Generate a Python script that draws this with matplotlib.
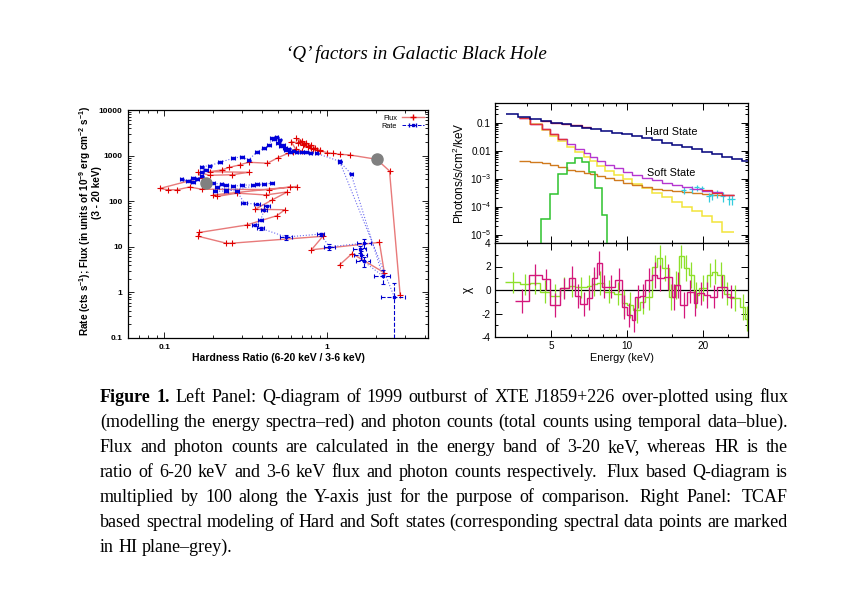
import re
import numpy as np
import matplotlib
matplotlib.use('Agg')
import matplotlib.pyplot as plt
from matplotlib.ticker import FixedLocator, FixedFormatter, NullFormatter
from matplotlib.lines import Line2D

plt.rcParams['font.family'] = ['Liberation Sans', 'DejaVu Sans']
plt.rcParams['mathtext.default'] = 'regular'
plt.rcParams['axes.unicode_minus'] = False

# ---------------- Left panel data: Q-diagram ----------------
red_hr = [2.80, 2.41, 2.01, 1.37, 1.19, 1.08, 1.00, 0.90, 0.86, 0.80,
          0.76, 0.72, 0.68, 0.645, 0.70, 0.74, 0.80, 0.84, 0.90, 0.82,
          0.76, 0.71, 0.66, 0.60, 0.64, 0.70, 0.62, 0.575, 0.50, 0.43,
          0.33, 0.29, 0.25, 0.225, 0.19, 0.33, 0.26, 0.19, 0.162, 0.17,
          0.094, 0.106, 0.12, 0.143, 0.17, 0.44, 0.65, 0.59, 0.20, 0.21,
          0.28, 0.42, 0.57, 0.46, 0.36, 0.41, 0.55, 0.49, 0.32, 0.164,
          0.162, 0.24, 0.26, 0.94, 0.80, 2.09, 2.24, 1.42, 1.19]
red_flux = [0.89, 460, 830, 1035, 1070, 1120, 1160, 1280, 1350, 1450,
            1600, 1800, 2000, 2400, 2100, 1900, 1700, 1500, 1300, 1400,
            1550, 1700, 1900, 2030, 1400, 1250, 1200, 1120, 906, 680,
            715, 625, 550, 484, 445, 430, 380, 370, 431, 330,
            190, 178, 178, 205, 183, 180, 210, 205, 137, 127,
            150, 137, 160, 107, 66, 66, 65, 48, 30, 20.6,
            17, 12, 12, 17, 8.6, 12.5, 2.7, 7.1, 4.0]

blue_hr = [2.58, 1.19, 0.86, 0.79, 0.74, 0.70, 0.65, 0.62, 0.59, 0.58,
           0.56, 0.55, 0.535, 0.52, 0.51, 0.50, 0.49, 0.47, 0.46, 0.44,
           0.41, 0.37, 0.33, 0.30, 0.265, 0.22, 0.19, 0.17, 0.18, 0.17,
           0.16, 0.15, 0.14, 0.128, 0.15, 0.17, 0.20, 0.225, 0.24, 0.265,
           0.30, 0.35, 0.37, 0.41, 0.46, 0.24, 0.205, 0.21, 0.24, 0.28,
           0.31, 0.37, 0.43, 0.41, 0.39, 0.36, 0.39, 0.56, 0.91, 1.03,
           1.69, 1.58, 1.60, 1.67, 2.19, 1.40, 1.19]
blue_rate = [0.79, 750, 1120, 1150, 1180, 1200, 1180, 1250, 1220, 1400,
             1330, 1500, 1700, 1600, 2200, 1900, 2500, 2300, 2400, 1700,
             1450, 1220, 800, 950, 870, 715, 600, 575, 490, 430,
             300, 330, 280, 300, 260, 350, 250, 236, 226, 211,
             226, 226, 236, 236, 250, 168, 164, 200, 180, 164,
             91, 86, 80, 63, 38, 30, 25.5, 16.4, 19, 10,
             12, 8.8, 6.6, 4.8, 2.3, 400, 740]
blue_xerr = [0.43, 0.03, 0.022, 0.02, 0.019, 0.018, 0.016, 0.016, 0.015, 0.015,
             0.014, 0.014, 0.013, 0.013, 0.013, 0.013, 0.012, 0.012, 0.012, 0.011,
             0.010, 0.009, 0.008, 0.008, 0.007, 0.006, 0.005, 0.004, 0.005, 0.004,
             0.004, 0.004, 0.004, 0.003, 0.004, 0.004, 0.005, 0.006, 0.006, 0.007,
             0.008, 0.009, 0.009, 0.010, 0.012, 0.007, 0.006, 0.006, 0.007, 0.008,
             0.012, 0.015, 0.018, 0.016, 0.015, 0.015, 0.02, 0.05, 0.05, 0.08,
             0.16, 0.15, 0.15, 0.17, 0.25, 0.03, 0.03]
blue_yerr = [0.785, 20, 30, 30, 30, 30, 30, 30, 30, 35,
             35, 40, 45, 40, 55, 50, 60, 60, 60, 45,
             40, 30, 20, 25, 22, 18, 15, 15, 12, 11,
             8, 8, 7, 8, 7, 9, 6, 6, 6, 5,
             6, 6, 6, 6, 6, 4, 4, 5, 5, 4,
             3, 3, 3, 3, 2, 2, 2, 2.0, 1.5, 1.5,
             2.5, 1.6, 1.5, 1.2, 0.8, 12, 15]

grey_hr = [0.18, 2.01]
grey_flux = [248, 830]

# ---------------- Right panel data: spectra ----------------
hard_edges = [3.32, 3.71, 4.11, 4.54, 5.0, 5.5, 6.0, 6.6, 7.2, 7.9, 8.7, 9.5,
              10.4, 11.4, 12.5, 13.7, 15.0, 16.4, 18.0, 19.7, 21.6, 23.6, 25.9, 28.3, 31.0]
hard_model = [0.198, 0.155, 0.135, 0.112, 0.097, 0.086, 0.076, 0.066, 0.058, 0.050,
              0.044, 0.038, 0.032, 0.027, 0.023, 0.019, 0.016, 0.0132, 0.0110, 0.0090,
              0.0074, 0.0061, 0.0050, 0.0041]
hard_data_edges = [4.54, 5.0, 5.5, 6.0, 6.6, 7.2]
hard_data = [0.115, 0.100, 0.089, 0.079, 0.069]

soft_edges = [3.73, 4.13, 4.59, 4.95, 5.34, 5.77, 6.22, 6.72, 7.14, 7.59, 8.18, 8.9,
              9.6, 10.4, 11.4, 12.5, 13.7, 15.0, 16.4, 18.0, 19.7, 21.6, 23.6, 26.3]
soft_total = [0.143, 0.090, 0.058, 0.038, 0.0254, 0.0168, 0.0112, 0.0080, 0.0058, 0.0041,
              0.0031, 0.0023, 0.00178, 0.00135, 0.00109, 8.7e-4, 7.2e-4, 6.1e-4, 5.2e-4, 4.4e-4,
              3.7e-4, 3.2e-4, 2.6e-4]
soft_disk = [0.140, 0.086, 0.054, 0.034, 0.0215, 0.0135, 0.0086, 0.0058, 0.0041, 0.0028,
             0.0019, 0.00135, 9.5e-4, 6.5e-4, 4.5e-4, 3.1e-4, 2.15e-4, 1.5e-4, 1.0e-4, 7.0e-5,
             4.5e-5, 2.8e-5, 1.2e-5]
soft_pl = [0.0043, 0.0040, 0.0036, 0.0030, 0.0025, 0.0021, 0.0018, 0.0016, 0.0014, 0.0012,
           0.00105, 8.8e-4, 7.2e-4, 6.0e-4, 5.0e-4, 4.4e-4, 3.9e-4, 3.5e-4, 3.2e-4, 3.0e-4,
           2.8e-4, 2.6e-4, 2.5e-4]
line_edges = [4.56, 4.95, 5.34, 5.77, 6.22, 6.65, 7.07, 7.47, 7.94, 8.31]
line_vals = [3.6e-5, 2.9e-4, 1.43e-3, 3.5e-3, 5.3e-3, 4.0e-3, 1.78e-3, 4.5e-4, 5.0e-5]
soft_data_edges = [3.73, 4.13, 4.59, 4.95, 5.34, 5.77]
soft_data = [0.144, 0.091, 0.059, 0.039, 0.0258]
soft_data2_edges = [19.7, 21.6, 23.6, 26.3]
soft_data2 = [3.8e-4, 3.1e-4, 2.6e-4]
cyan_E = [16.7, 18.0, 18.8, 19.7, 21.0, 21.6, 22.6, 23.8, 25.3, 26.0]
cyan_f = [3.9e-4, 4.2e-4, 4.9e-4, 4.5e-4, 2.3e-4, 2.6e-4, 3.0e-4, 2.3e-4, 1.8e-4, 1.8e-4]
cyan_ferr = [1.0e-4, 1.1e-4, 1.2e-4, 1.1e-4, 0.8e-4, 0.9e-4, 1.0e-4, 0.9e-4, 0.7e-4, 0.7e-4]
cyan_Eerr = [0.35, 0.4, 0.4, 0.45, 0.45, 0.5, 0.5, 0.55, 0.6, 0.6]

# residuals
res_hard_edges = [3.29, 3.77, 4.13, 4.52, 4.96, 5.43, 5.86, 6.22, 6.92, 7.25, 7.59, 8.09,
                  8.83, 9.53, 9.97, 10.58, 11.26, 11.79, 12.53, 13.11, 13.72, 14.59, 15.27,
                  15.98, 16.71, 17.5, 18.3, 19.2, 20.7, 21.65, 22.66, 24.1, 25.5, 28.0, 29.3, 30.2]
res_hard = [0.66, 0.49, 0.6, -0.14, -0.5, 0.2, 0.3, 0.23, 0.3, 0.5,
            0.6, -0.14, -0.3, -1.14, -1.29, -1.7, -1.0, -0.6, 2.0, 2.7,
            1.86, -0.57, 0.43, 2.86, 1.86, 1.29, -0.43, 0.2, 1.29, 1.57,
            1.3, -0.3, -0.7, -1.43, -2.43]
res_hard_err = [0.9, 0.9, 0.9, 1.0, 1.0, 0.9, 0.9, 0.9, 1.0, 1.0,
                1.0, 1.0, 1.0, 1.1, 1.1, 1.1, 1.0, 1.1, 1.0, 1.1,
                1.1, 1.1, 1.2, 1.0, 1.1, 1.1, 1.1, 1.1, 1.0, 1.1,
                1.1, 1.0, 1.1, 1.1, 1.1]
res_soft_edges = [3.60, 4.07, 4.59, 4.96, 5.40, 5.86, 6.22, 6.52, 6.92, 7.25, 7.59, 7.94,
                  8.31, 8.96, 9.53, 9.97, 10.44, 10.76, 11.26, 11.79, 12.53, 13.11, 13.94,
                  15.03, 15.5, 16.2, 17.2, 18.3, 18.9, 20.07, 21.3, 22.66, 24.8, 26.4]
res_soft = [-0.94, 1.29, 0.91, -1.29, 0.14, 1.06, -0.49, -1.2, -0.71, 1.0,
            2.29, 0.29, 0.29, 0.86, -1.43, -2.14, -2.57, -0.57, -0.49, 0.86,
            1.29, 1.0, 1.09, -0.57, 0.43, -1.29, -0.14, -1.14, -0.29, -0.43,
            -0.57, 0.29, -0.57]
res_soft_err = [1.0, 0.9, 0.9, 1.0, 0.9, 0.95, 1.0, 1.0, 1.0, 1.0,
                1.0, 1.0, 1.0, 1.0, 1.0, 1.0, 1.0, 1.0, 1.0, 1.0,
                1.1, 1.1, 1.1, 1.1, 1.1, 1.1, 1.0, 1.1, 1.0, 1.1,
                1.0, 1.0, 1.0]

# ---------------- Text ----------------
title_text = '\u2018Q\u2019 factors in Galactic Black Hole'
caption_lines = [
    'Figure 1. Left Panel: Q-diagram of 1999 outburst of XTE J1859+226 over-plotted using flux',
    '(modelling the energy spectra\u2013red) and photon counts (total counts using temporal data\u2013blue).',
    'Flux and photon counts are calculated in the energy band of 3-20 keV, whereas HR is the',
    'ratio of 6-20 keV and 3-6 keV flux and photon counts respectively.  Flux based Q-diagram is',
    'multiplied by 100 along the Y-axis just for the purpose of comparison.  Right Panel:  TCAF',
    'based spectral modeling of Hard and Soft states (corresponding spectral data points are marked',
    'in HI plane\u2013grey).',
]

W, H = 851, 601
fig = plt.figure(figsize=(W / 100, H / 100), dpi=100)
fig.patch.set_facecolor('white')


def fx(px):
    return px / W


def fy(py):
    return 1 - py / H


def add_axes_px(x0, x1, y0, y1):
    return fig.add_axes([fx(x0), fy(y1), fx(x1) - fx(x0), fy(y0) - fy(y1)])


# ================= Left panel =================
axL = add_axes_px(128, 428, 110, 338)
axL.set_xscale('log')
axL.set_yscale('log')
axL.plot(red_hr, red_flux, '-', color='#e87a7a', lw=1.0, zorder=2)
axL.plot(red_hr, red_flux, '+', color='#e00000', ms=4.5, mew=0.8, zorder=3)
axL.plot(blue_hr, blue_rate, ':', color='#6a6af0', lw=0.8, zorder=3)
eb = axL.errorbar(blue_hr, blue_rate, xerr=blue_xerr, yerr=blue_yerr, fmt='s', ms=1.5,
                  color='#0000dd', ecolor='#0000cc', elinewidth=0.8, capsize=1.6,
                  capthick=0.8, zorder=4)
for lc in eb[2]:
    lc.set_linestyle('--')
axL.plot(grey_hr, grey_flux, 'o', color='#808080', ms=8, zorder=6)
axL.set_xlim(0.06, 4.15)
axL.set_ylim(0.1, 10000)
axL.xaxis.set_major_locator(FixedLocator([0.1, 1]))
axL.xaxis.set_major_formatter(FixedFormatter(['0.1', '1']))
axL.xaxis.set_minor_formatter(NullFormatter())
axL.yaxis.set_major_locator(FixedLocator([0.1, 1, 10, 100, 1000, 10000]))
axL.yaxis.set_major_formatter(FixedFormatter(['0.1', '1', '10', '100', '1000', '10000']))
axL.yaxis.set_minor_formatter(NullFormatter())
axL.tick_params(which='both', direction='in', top=True, right=True, labelsize=6,
                width=0.6)
axL.tick_params(which='major', length=4, pad=4)
axL.tick_params(which='minor', length=2)
for lab in axL.get_xticklabels() + axL.get_yticklabels():
    lab.set_fontweight('bold')
for s in axL.spines.values():
    s.set_linewidth(0.9)
axL.set_xlabel('Hardness Ratio (6-20 keV / 3-6 keV)', fontsize=7.5, fontweight='bold',
               labelpad=2)

flux_handle = Line2D([], [], color='#e87a7a', lw=1.0, marker='+', mec='#e00000', ms=4)
rate_proxy = axL.errorbar([np.nan], [np.nan], xerr=[1.0], fmt='--s', ms=1.5,
                          color='#0000cc', lw=0.7, capsize=1.6, elinewidth=0.7)
axL.legend([flux_handle, rate_proxy], ['Flux', 'Rate'], loc='upper right',
           markerfirst=False, frameon=False, fontsize=5.3, handlelength=3.0,
           borderaxespad=0.2, labelspacing=0.15, handletextpad=0.6)

fig.text(fx(85), fy(221),
         'Rate (cts s$^{-1}$); Flux (in units of 10$^{-9}$ erg cm$^{-2}$ s$^{-1}$)',
         rotation=90, ha='center', va='center', fontsize=7.2, fontweight='bold')
fig.text(fx(97), fy(193), '(3 - 20 keV)', rotation=90, ha='center', va='center',
         fontsize=7.2, fontweight='bold')

# ================= Right upper panel =================
axS = add_axes_px(495, 748, 103, 243)
axS.set_xscale('log')
axS.set_yscale('log')
axS.stairs(soft_disk, soft_edges, color='#f2e43a', lw=1.1, baseline=None, zorder=2)
axS.stairs(soft_pl, soft_edges, color='#d07a1e', lw=1.0, baseline=None, zorder=3)
axS.stairs(line_vals, line_edges, color='#2ec22e', lw=1.1, baseline=1e-9, zorder=3)
axS.errorbar(cyan_E, cyan_f, xerr=cyan_Eerr, yerr=cyan_ferr, fmt='none',
             ecolor='#33ccdd', elinewidth=0.9, zorder=4)
axS.stairs(soft_total, soft_edges, color='#b535d0', lw=1.0, baseline=None, zorder=5)
axS.stairs(soft_data, soft_data_edges, color='#e0303a', lw=1.0, baseline=None, zorder=6)
axS.stairs(soft_data2, soft_data2_edges, color='#e0303a', lw=0.9, baseline=None, zorder=6)
axS.stairs(hard_data, hard_data_edges, color='#e0303a', lw=1.0, baseline=None, zorder=5)
axS.stairs(hard_model, hard_edges, color='#00007a', lw=1.1, baseline=None, zorder=6)
axS.set_xlim(3, 30)
axS.set_ylim(5e-6, 0.5)
axS.xaxis.set_major_locator(FixedLocator([5, 10, 20]))
axS.xaxis.set_minor_locator(FixedLocator([4, 6, 7, 8, 9, 15, 25]))
axS.xaxis.set_major_formatter(NullFormatter())
axS.xaxis.set_minor_formatter(NullFormatter())
axS.yaxis.set_major_locator(FixedLocator([1e-5, 1e-4, 1e-3, 1e-2, 1e-1]))
axS.yaxis.set_major_formatter(FixedFormatter(['10$^{-5}$', '10$^{-4}$', '10$^{-3}$',
                                              '0.01', '0.1']))
axS.yaxis.set_minor_formatter(NullFormatter())
axS.tick_params(which='both', direction='in', top=True, right=True, labelsize=7.2,
                width=0.7)
axS.tick_params(which='major', length=5, pad=3)
axS.tick_params(which='minor', length=2.5)
fig.text(fx(645), fy(132), 'Hard State', fontsize=7.8, ha='left', va='center')
fig.text(fx(647), fy(173), 'Soft State', fontsize=7.8, ha='left', va='center')
axS.set_ylabel('Photons/s/cm$^2$/keV', fontsize=8.5, labelpad=2)

# ================= Right lower panel =================
axR = add_axes_px(495, 748, 243, 337)
axR.set_xscale('log')
axR.axhline(0, color='black', lw=0.9, zorder=1)
cen_h = np.sqrt(np.array(res_hard_edges[:-1]) * np.array(res_hard_edges[1:]))
cen_s = np.sqrt(np.array(res_soft_edges[:-1]) * np.array(res_soft_edges[1:]))
axR.stairs(res_hard, res_hard_edges, color='#8ee02a', lw=1.0, baseline=None, zorder=2)
axR.errorbar(cen_h, res_hard, yerr=res_hard_err, fmt='none', ecolor='#8ee02a',
             elinewidth=0.9, zorder=2)
axR.stairs(res_soft, res_soft_edges, color='#d4177c', lw=1.0, baseline=None, zorder=3)
axR.errorbar(cen_s, res_soft, yerr=res_soft_err, fmt='none', ecolor='#d4177c',
             elinewidth=0.9, zorder=3)
axR.set_xlim(3, 30)
axR.set_ylim(-4, 4)
axR.xaxis.set_major_locator(FixedLocator([5, 10, 20]))
axR.xaxis.set_major_formatter(FixedFormatter(['5', '10', '20']))
axR.xaxis.set_minor_locator(FixedLocator([4, 6, 7, 8, 9, 15, 25]))
axR.xaxis.set_minor_formatter(NullFormatter())
axR.yaxis.set_major_locator(FixedLocator([-4, -2, 0, 2, 4]))
axR.yaxis.set_major_formatter(FixedFormatter(['-4', '-2', '0', '2', '4']))
axR.yaxis.set_minor_locator(FixedLocator([-3, -1, 1, 3]))
axR.tick_params(which='both', direction='in', top=True, right=True, labelsize=7.2,
                width=0.7)
axR.tick_params(which='major', length=5, pad=3)
axR.tick_params(which='minor', length=2.5)
axR.set_xlabel('Energy (keV)', fontsize=7.8, labelpad=1)
axR.set_ylabel('\u03c7', fontsize=8.5, labelpad=6)
for ax in (axS, axR):
    for s in ax.spines.values():
        s.set_linewidth(0.9)

# ================= Title and caption =================
fig.text(fx(416.7), fy(59), title_text, family=['Liberation Serif'], style='italic',
         fontsize=13.7, ha='center', va='baseline')

renderer = fig.canvas.get_renderer()
cap_size = 13.0
cap_x0, cap_x1 = 100, 788


def text_w(s, weight):
    t = fig.text(0, 0, s, fontsize=cap_size, family=['Liberation Serif'], fontweight=weight)
    w = t.get_window_extent(renderer=renderer).width
    t.remove()
    return w


space_w = text_w('a a', 'normal') - 2 * text_w('a', 'normal')
for i, line in enumerate(caption_lines):
    base_y = 401.7 + 25.0 * i
    parts = re.split(r'( +)', line)
    words = parts[0::2]
    gaps = [1.0 + 0.6 * (len(g) - 1) for g in parts[1::2]]
    weights = ['normal'] * len(words)
    if i == 0:
        weights[0] = 'bold'
        weights[1] = 'bold'
    widths = [text_w(w, wt) for w, wt in zip(words, weights)]
    if i < len(caption_lines) - 1:
        unit = (cap_x1 - cap_x0 - sum(widths)) / sum(gaps)
    else:
        unit = space_w
    x = cap_x0
    for k, (w, wt) in enumerate(zip(words, weights)):
        fig.text(fx(x), fy(base_y), w, fontsize=cap_size, family=['Liberation Serif'],
                 fontweight=wt, ha='left', va='baseline')
        x += widths[k]
        if k < len(gaps):
            x += unit * gaps[k]

fig.savefig('out.png', dpi=100, facecolor='white')
